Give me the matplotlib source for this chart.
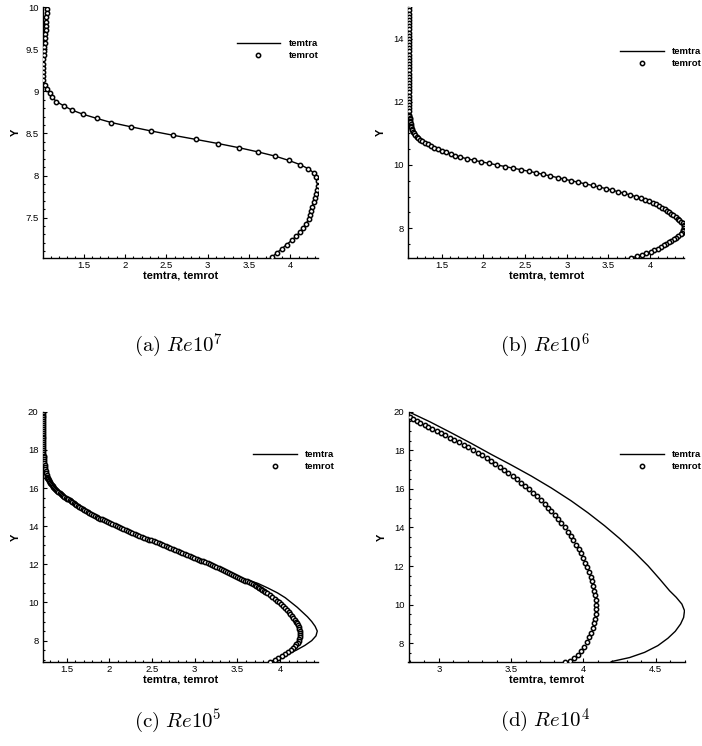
import matplotlib
matplotlib.use("Agg")
import matplotlib.pyplot as plt
from matplotlib.ticker import MultipleLocator, FuncFormatter

plt.rcParams["font.family"] = ["Liberation Sans", "DejaVu Sans"]
plt.rcParams["mathtext.fontset"] = "cm"

# -----------------------------
# DATA
# -----------------------------
# (a) Re 10^7
a_y = [9.98, 9.93, 9.88, 9.83, 9.78, 9.73, 9.68, 9.63, 9.58, 9.53,
       9.48, 9.43, 9.38, 9.33, 9.28, 9.23, 9.18, 9.13, 9.08, 9.03,
       8.98, 8.93, 8.88, 8.83, 8.78, 8.73, 8.68, 8.63, 8.58, 8.53,
       8.48, 8.43, 8.38, 8.33, 8.28, 8.23, 8.18, 8.13, 8.08, 8.03,
       7.98, 7.93, 7.88, 7.83, 7.78, 7.73, 7.68, 7.63, 7.58, 7.53,
       7.48, 7.43, 7.38, 7.33, 7.28, 7.23, 7.18, 7.13, 7.08, 7.03]
a_rot = [1.055, 1.053, 1.050, 1.047, 1.043, 1.039, 1.036, 1.033, 1.029, 1.026,
         1.022, 1.018, 1.014, 1.010, 1.007, 1.004, 1.005, 1.013, 1.030, 1.056,
         1.089, 1.121, 1.170, 1.258, 1.355, 1.488, 1.657, 1.835, 2.069, 2.315,
         2.577, 2.855, 3.129, 3.383, 3.613, 3.819, 3.980, 4.117, 4.218, 4.286,
         4.315, 4.330, 4.328, 4.318, 4.305, 4.295, 4.280, 4.265, 4.255, 4.240,
         4.220, 4.190, 4.155, 4.115, 4.070, 4.015, 3.955, 3.895, 3.835, 3.775]
a_tra = a_rot

# (b) Re 10^6
b_y = [15.0, 14.9, 14.8, 14.7, 14.6, 14.5, 14.4, 14.3, 14.2, 14.1,
       14.0, 13.9, 13.8, 13.7, 13.6, 13.5, 13.4, 13.3, 13.2, 13.1,
       13.0, 12.9, 12.8, 12.7, 12.6, 12.5, 12.4, 12.3, 12.2, 12.1,
       12.0, 11.9, 11.8, 11.7, 11.6,
       11.55, 11.5, 11.45, 11.4, 11.35, 11.3, 11.25, 11.2, 11.15, 11.1,
       11.05, 11.0, 10.95, 10.9, 10.85, 10.8, 10.75, 10.7, 10.65, 10.6,
       10.55, 10.5, 10.45, 10.4, 10.35, 10.3, 10.25, 10.2, 10.15, 10.1,
       10.05, 10.0, 9.95, 9.9, 9.85, 9.8, 9.75, 9.7, 9.65, 9.6,
       9.55, 9.5, 9.45, 9.4, 9.35, 9.3, 9.25, 9.2, 9.15, 9.1,
       9.05, 9.0, 8.95, 8.9, 8.85, 8.8, 8.75, 8.7, 8.65, 8.6,
       8.55, 8.5, 8.45, 8.4, 8.35, 8.3, 8.25, 8.2, 8.15, 8.1,
       8.05, 8.0, 7.95, 7.9, 7.85, 7.8, 7.75, 7.7, 7.65, 7.6,
       7.55, 7.5, 7.45, 7.4, 7.35, 7.3, 7.25, 7.2, 7.15, 7.1, 7.05]
b_rot = [1.110, 1.110, 1.110, 1.110, 1.110, 1.110, 1.110, 1.110, 1.110, 1.110,
         1.110, 1.110, 1.110, 1.110, 1.110, 1.110, 1.110, 1.110, 1.110, 1.110,
         1.110, 1.110, 1.110, 1.110, 1.110, 1.110, 1.110, 1.110, 1.110, 1.110,
         1.110, 1.110, 1.111, 1.112, 1.113,
         1.114, 1.115, 1.117, 1.120, 1.123, 1.127, 1.131, 1.136, 1.142, 1.150,
         1.159, 1.170, 1.185, 1.200, 1.220, 1.243, 1.270, 1.300, 1.335, 1.370,
         1.410, 1.455, 1.505, 1.555, 1.610, 1.665, 1.725, 1.800, 1.885, 1.975,
         2.070, 2.165, 2.260, 2.355, 2.450, 2.545, 2.635, 2.720, 2.805, 2.890,
         2.970, 3.055, 3.140, 3.225, 3.310, 3.390, 3.470, 3.545, 3.620, 3.690,
         3.760, 3.825, 3.885, 3.940, 3.990, 4.035, 4.075, 4.110, 4.145, 4.175,
         4.205, 4.230, 4.255, 4.280, 4.305, 4.330, 4.350, 4.370, 4.390, 4.405,
         4.410, 4.408, 4.400, 4.390, 4.380, 4.365, 4.340, 4.315, 4.285, 4.255,
         4.225, 4.195, 4.165, 4.130, 4.095, 4.050, 4.005, 3.955, 3.900, 3.840, 3.770]
b_tra = b_rot

# (c) Re 10^5
c_y = [20.0, 19.9, 19.8, 19.7, 19.6, 19.5, 19.4, 19.3, 19.2, 19.1,
       19.0, 18.9, 18.8, 18.7, 18.6, 18.5, 18.4, 18.3, 18.2, 18.1,
       18.0, 17.9, 17.8, 17.7, 17.6, 17.5, 17.4, 17.3, 17.2, 17.1,
       17.0, 16.9, 16.8, 16.7, 16.6,
       16.55, 16.5, 16.45, 16.4, 16.35, 16.3, 16.25, 16.2, 16.15, 16.1,
       16.05, 16.0, 15.95, 15.9, 15.85, 15.8, 15.75, 15.7, 15.65, 15.6,
       15.55, 15.5, 15.45, 15.4, 15.35, 15.3, 15.25, 15.2, 15.15, 15.1,
       15.05, 15.0, 14.95, 14.9, 14.85, 14.8, 14.75, 14.7, 14.65, 14.6,
       14.55, 14.5, 14.45, 14.4, 14.35, 14.3, 14.25, 14.2, 14.15, 14.1,
       14.05, 14.0, 13.95, 13.9, 13.85, 13.8, 13.75, 13.7, 13.65, 13.6,
       13.55, 13.5, 13.45, 13.4, 13.35, 13.3, 13.25, 13.2, 13.15, 13.1,
       13.05, 13.0, 12.95, 12.9, 12.85, 12.8, 12.75, 12.7, 12.65, 12.6,
       12.55, 12.5, 12.45, 12.4, 12.35, 12.3, 12.25, 12.2, 12.15, 12.1,
       12.05, 12.0, 11.95, 11.9, 11.85, 11.8, 11.75, 11.7, 11.65, 11.6,
       11.55, 11.5, 11.45, 11.4, 11.35, 11.3, 11.25, 11.2, 11.15, 11.1,
       11.05, 11.0, 10.95, 10.9, 10.85, 10.8, 10.75, 10.7, 10.65, 10.6,
       10.55, 10.5,
       10.4, 10.3, 10.2, 10.1, 10.0, 9.9, 9.8, 9.7, 9.6, 9.5,
       9.4, 9.3, 9.2, 9.1, 9.0, 8.9, 8.8, 8.7, 8.6, 8.5,
       8.4, 8.3, 8.2, 8.1, 8.0, 7.9, 7.8, 7.7, 7.6, 7.5,
       7.4, 7.3, 7.2, 7.1, 7.0, 6.9]
c_rot = [1.227, 1.227, 1.227, 1.227, 1.227, 1.227, 1.227, 1.227, 1.227, 1.227,
         1.227, 1.227, 1.227, 1.227, 1.227, 1.227, 1.227, 1.227, 1.227, 1.227,
         1.227, 1.228, 1.229, 1.230, 1.232, 1.234, 1.236, 1.239, 1.242, 1.246,
         1.250, 1.255, 1.260, 1.266, 1.272,
         1.276, 1.280, 1.285, 1.290, 1.296, 1.303, 1.310, 1.318, 1.327, 1.336,
         1.346, 1.357, 1.368, 1.380, 1.392, 1.405, 1.418, 1.432, 1.446, 1.460,
         1.475, 1.490, 1.505, 1.520, 1.535, 1.550, 1.566, 1.582, 1.598, 1.615,
         1.632, 1.650, 1.668, 1.687, 1.706, 1.725, 1.745, 1.765, 1.786, 1.807,
         1.828, 1.850, 1.872, 1.895, 1.917, 1.940, 1.964, 1.988, 2.012, 2.037,
         2.062, 2.088, 2.113, 2.138, 2.164, 2.190, 2.216, 2.243, 2.270, 2.297,
         2.325, 2.352, 2.380, 2.408, 2.436, 2.464, 2.492, 2.520, 2.548, 2.576,
         2.604, 2.632, 2.660, 2.688, 2.716, 2.744, 2.772, 2.800, 2.828, 2.856,
         2.884, 2.912, 2.940, 2.967, 2.994, 3.021, 3.048, 3.074, 3.100, 3.126,
         3.152, 3.178, 3.204, 3.230, 3.255, 3.280, 3.305, 3.330, 3.355, 3.380,
         3.404, 3.428, 3.452, 3.476, 3.500, 3.523, 3.546, 3.568, 3.592, 3.615,
         3.638, 3.660, 3.680, 3.700, 3.720, 3.740, 3.758, 3.775, 3.793, 3.810,
         3.828, 3.845,
         3.878, 3.908, 3.937, 3.964, 3.990, 4.015, 4.038, 4.060, 4.080, 4.100,
         4.120, 4.138, 4.155, 4.170, 4.184, 4.197, 4.208, 4.217, 4.224, 4.229,
         4.232, 4.232, 4.229, 4.224, 4.216, 4.205, 4.190, 4.172, 4.150, 4.124,
         4.094, 4.060, 4.022, 3.980, 3.935, 3.885]
c_tra_y = [20.0, 19.0, 18.0, 17.5, 17.25, 17.0, 16.75, 16.5, 16.25, 16.0,
           15.75, 15.5, 15.25, 15.0, 14.5, 14.0, 13.5, 13.0, 12.5, 12.0,
           11.5, 11.25, 11.0, 10.75, 10.5, 10.25, 10.0, 9.75, 9.5, 9.25,
           9.0, 8.75, 8.5, 8.25, 8.0, 7.75, 7.5, 7.25, 7.0, 6.9]
c_tra = [1.227, 1.227, 1.227, 1.234, 1.240, 1.250, 1.263, 1.280, 1.310, 1.357,
         1.418, 1.490, 1.566, 1.650, 1.850, 2.088, 2.352, 2.632, 2.912, 3.178,
         3.430, 3.570, 3.740, 3.860, 3.970, 4.060, 4.130, 4.200, 4.260, 4.320,
         4.370, 4.410, 4.435, 4.420, 4.370, 4.290, 4.190, 4.070, 3.940, 3.885]

# (d) Re 10^4
d_rot_y = [19.72, 19.64, 19.53, 19.43, 19.33, 19.22, 19.12, 19.00, 18.88, 18.78,
           18.66, 18.53, 18.41, 18.29, 18.16, 18.02, 17.88, 17.74, 17.60, 17.45,
           17.29, 17.14, 16.98, 16.83, 16.67, 16.50, 16.33, 16.16, 15.98, 15.81,
           15.64, 15.43, 15.24, 15.03, 14.84, 14.64, 14.43, 14.22, 14.00, 13.78,
           13.57, 13.34, 13.10, 12.88, 12.66, 12.41, 12.17, 11.93, 11.69, 11.45,
           11.21, 10.97, 10.72, 10.48, 10.24, 10.00, 9.76, 9.52, 9.28, 9.03,
           8.79, 8.55, 8.31, 8.07, 7.83, 7.60, 7.40, 7.22, 7.10, 7.05]
d_rot = [2.797, 2.820, 2.848, 2.873, 2.901, 2.928, 2.956, 2.986, 3.016, 3.046,
         3.076, 3.108, 3.141, 3.173, 3.205, 3.238, 3.270, 3.302, 3.335, 3.362,
         3.392, 3.422, 3.452, 3.482, 3.512, 3.540, 3.568, 3.595, 3.623, 3.651,
         3.679, 3.706, 3.732, 3.755, 3.778, 3.801, 3.824, 3.847, 3.870, 3.893,
         3.912, 3.930, 3.949, 3.967, 3.983, 3.999, 4.013, 4.027, 4.039, 4.050,
         4.059, 4.069, 4.075, 4.082, 4.087, 4.089, 4.089, 4.087, 4.082, 4.075,
         4.066, 4.055, 4.041, 4.025, 4.006, 3.985, 3.960, 3.932, 3.905, 3.870]
d_tra_y = [20.0, 19.47, 18.91, 18.36, 17.79, 17.24, 16.67, 16.05, 15.38, 14.76,
           14.09, 13.43, 12.71, 12.02, 11.33, 10.72, 10.38, 10.03, 9.69, 9.34,
           9.00, 8.62, 8.26, 7.88, 7.53, 7.26, 7.05]
d_tra = [2.790, 2.940, 3.085, 3.224, 3.362, 3.501, 3.639, 3.778, 3.916, 4.032,
         4.147, 4.251, 4.355, 4.447, 4.528, 4.597, 4.643, 4.682, 4.700, 4.694,
         4.673, 4.636, 4.585, 4.516, 4.424, 4.320, 4.193]

panels = [
    ("(a)", "7", a_y, a_rot, a_y, a_tra, (1.005, 4.33), (7.02, 10.0), 0.5, 0.1, 0.5, 0.1),
    ("(b)", "6", b_y, b_rot, b_y, b_tra, (1.10, 4.41), (7.05, 15.0), 0.5, 0.1, 2, 0.5),
    ("(c)", "5", c_y, c_rot, c_tra_y, c_tra, (1.22, 4.44), (6.88, 20.0), 0.5, 0.1, 2, 0.5),
    ("(d)", "4", d_rot_y, d_rot, d_tra_y, d_tra, (2.79, 4.70), (7.03, 20.0), 0.5, 0.1, 2, 0.5),
]

# axes boxes in pixels: left, top, width, height
boxes = [(42.7, 7.3, 275, 250.7), (408.3, 7.3, 276, 250.7),
         (42.7, 411.7, 275, 250.3), (408.5, 411.7, 276, 250.3)]
legend_anchor = [(0.7055, 0.872), (0.768, 0.841), (0.766, 0.845), (0.767, 0.845)]
caption_pos = [(178, 352), (545, 352), (178, 727), (545, 727)]

W, H = 702, 746
fig = plt.figure(figsize=(W / 100, H / 100), dpi=100)

fmt = FuncFormatter(lambda v, _: f"{v:g}")

for i, (tag, exp, ry, rx, ty, tx, xl, yl, xmaj, xmin, ymaj, ymin) in enumerate(panels):
    l, t, w, h = boxes[i]
    ax = fig.add_axes([l / W, 1 - (t + h) / H, w / W, h / H])

    ax.plot(tx, ty, color="black", lw=1.0, label="temtra", zorder=2)
    ax.plot(rx, ry, ls="none", marker="o", ms=3.1, mew=1.1,
            mec="black", mfc="white", label="temrot", zorder=3)

    ax.set_xlim(*xl)
    ax.set_ylim(*yl)
    ax.xaxis.set_major_locator(MultipleLocator(xmaj))
    ax.xaxis.set_minor_locator(MultipleLocator(xmin))
    ax.yaxis.set_major_locator(MultipleLocator(ymaj))
    ax.yaxis.set_minor_locator(MultipleLocator(ymin))
    ax.xaxis.set_major_formatter(fmt)
    ax.yaxis.set_major_formatter(fmt)

    ax.spines["top"].set_visible(False)
    ax.spines["right"].set_visible(False)
    ax.spines["left"].set_linewidth(1.0)
    ax.spines["bottom"].set_linewidth(1.0)
    ax.tick_params(which="both", direction="in", width=0.8, labelsize=6.8)
    ax.tick_params(which="major", length=3.0)
    ax.tick_params(which="minor", length=1.6)
    ax.tick_params(axis="x", pad=2.5)
    ax.tick_params(axis="y", pad=3)

    ax.set_xlabel("temtra, temrot", fontsize=8, fontweight="bold")
    ax.set_ylabel("Y", fontsize=8, fontweight="bold")
    ax.xaxis.set_label_coords(0.5, -0.052)
    ax.yaxis.set_label_coords(-0.08, 0.5)

    ax.legend(loc="upper left", bbox_to_anchor=legend_anchor[i],
              frameon=False, borderpad=0, borderaxespad=0,
              handlelength=4.6, handletextpad=0.88, labelspacing=0.3,
              numpoints=1, prop={"size": 6.8, "weight": "bold"})

    cx, cy = caption_pos[i]
    fig.text(cx / W, 1 - cy / H, r"$\mathrm{" + tag + r"}\ Re10^{" + exp + "}$",
             ha="center", va="baseline", fontsize=15)

fig.savefig("out.png", dpi=100)
